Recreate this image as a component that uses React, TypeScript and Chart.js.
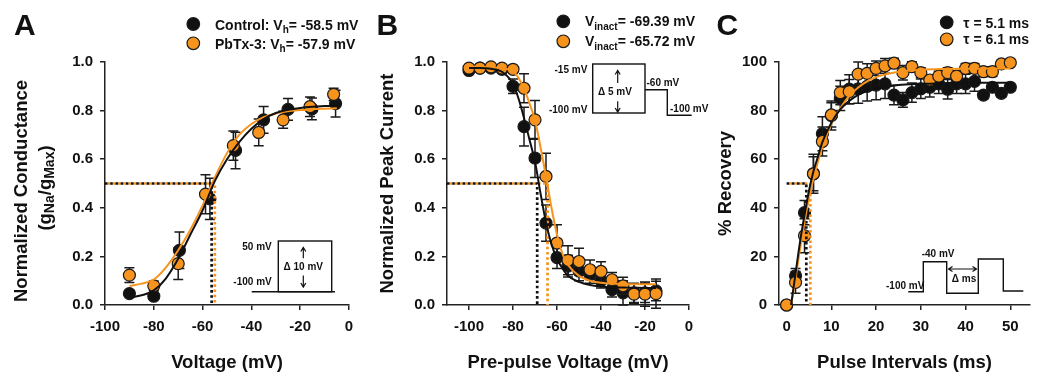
import { useEffect, useRef } from 'react';
import { Chart, registerables } from 'chart.js';

Chart.register(...registerables);

const W = 1047;
const H = 375;
const FONT = "'Liberation Sans', Arial, Helvetica, sans-serif";
const INK = '#111111';
const ORANGE = '#F7941D';
const AXIS = '#222222';
const BOTTOM_PAD = 1.2;

// ---------------- Panel A : activation ----------------
const aVoltageControl = [-90, -80, -69.5, -57, -46.5, -35, -25, -15.2, -5.5];
const aConductControl = [0.047, 0.036, 0.225, 0.437, 0.636, 0.762, 0.805, 0.807, 0.829];
const aErrorControl = [0.012, 0.012, 0.075, 0.085, 0.075, 0.055, 0.045, 0.045, 0.055];
const aVoltagePbtx = [-90, -80, -70, -58.8, -47.4, -37, -27, -16, -6.3];
const aConductPbtx = [0.123, 0.079, 0.17, 0.456, 0.656, 0.71, 0.762, 0.816, 0.867];
const aErrorPbtx = [0.03, 0.02, 0.065, 0.08, 0.06, 0.055, 0.035, 0.04, 0.025];
const aFitVoltage = [-90, -85, -80, -75, -70, -65, -60, -55, -50, -45, -40, -35, -30, -25, -20, -15, -10, -5];
const aFitControl = [0.03, 0.04, 0.06, 0.11, 0.19, 0.29, 0.39, 0.51, 0.6, 0.67, 0.725, 0.765, 0.79, 0.803, 0.811, 0.816, 0.819, 0.821];
const aFitPbtx = [0.078, 0.088, 0.105, 0.155, 0.225, 0.31, 0.41, 0.525, 0.625, 0.7, 0.745, 0.773, 0.788, 0.797, 0.802, 0.806, 0.808, 0.81];
const aHalfVoltage = [-56.3, -55.0]; // control, PbTx-3
const aXTicks = [-100, -80, -60, -40, -20, 0];
const aYTicks = [0, 0.2, 0.4, 0.6, 0.8, 1.0];

// ---------------- Panel B : steady-state inactivation ----------------
const bPrepulse = [-100, -95, -90, -85, -80, -75, -70, -65, -60, -55, -50, -45, -40, -35, -30, -25, -20, -15];
const bCurrentControl = [0.965, 0.975, 0.975, 0.97, 0.9, 0.734, 0.605, 0.337, 0.195, 0.16, 0.14, 0.125, 0.1, 0.063, 0.05, 0.05, 0.05, 0.058];
const bErrorControl = [0.012, 0.01, 0.01, 0.01, 0.03, 0.08, 0.08, 0.075, 0.045, 0.045, 0.04, 0.035, 0.03, 0.03, 0.05, 0.04, 0.04, 0.04];
const bCurrentPbtx = [0.975, 0.975, 0.98, 0.975, 0.97, 0.892, 0.762, 0.529, 0.255, 0.184, 0.179, 0.145, 0.138, 0.104, 0.079, 0.045, 0.045, 0.047];
const bErrorPbtx = [0.01, 0.01, 0.01, 0.01, 0.01, 0.06, 0.08, 0.095, 0.075, 0.06, 0.055, 0.04, 0.04, 0.03, 0.035, 0.04, 0.05, 0.06];
const bFitVoltage = [-100, -95, -90, -85, -80, -77.5, -75, -72.5, -70, -67.5, -65, -62.5, -60, -57.5, -55, -50, -45, -40, -35, -30, -25, -20, -15];
const bFitControl = [0.975, 0.975, 0.972, 0.96, 0.91, 0.85, 0.77, 0.68, 0.59, 0.46, 0.34, 0.25, 0.19, 0.15, 0.12, 0.095, 0.082, 0.076, 0.073, 0.072, 0.071, 0.07, 0.07];
const bFitPbtx = [0.98, 0.98, 0.978, 0.975, 0.962, 0.935, 0.89, 0.83, 0.76, 0.65, 0.53, 0.4, 0.29, 0.21, 0.165, 0.12, 0.1, 0.092, 0.088, 0.086, 0.085, 0.085, 0.085];
const bHalfVoltage = [-69.0, -64.3];
const bXTicks = [-100, -80, -60, -40, -20, 0];
const bYTicks = [0, 0.2, 0.4, 0.6, 0.8, 1.0];

// ---------------- Panel C : recovery from inactivation ----------------
const cInterval = [0, 2, 4, 6, 8, 10, 12, 14, 16, 18, 20, 22, 24, 26, 28, 30, 32, 34, 36, 38, 40, 42, 44, 46, 48, 50];
const cRecoveryControl = [0, 12, 38, 54, 70.5, 78, 85, 88.8, 89, 90, 90.5, 91, 86.4, 84.4, 87.4, 89, 89.6, 91, 88.8, 91, 91, 92, 86.4, 89.6, 87.1, 89.6];
const cErrorControl = [0, 3, 5, 8, 7, 6, 5, 6, 6, 6, 6, 6, 4, 3, 4, 4, 4, 4, 4, 4, 4, 4, 1.5, 1.5, 1.5, 1.5];
const cRecoveryPbtx = [0, 9.3, 28.5, 54, 67.3, 78.2, 87.4, 87.8, 95, 95.3, 97.4, 98.4, 99.5, 95.6, 98.1, 95.6, 92.6, 94.2, 95.6, 94.2, 97.4, 97.4, 96, 96, 99.2, 99.7];
const cErrorPbtx = [0, 4.5, 7, 7, 6, 5, 5, 5, 5, 4, 3, 3, 2, 3, 2, 2, 2, 2, 2, 2, 2, 2, 2, 2, 1, 1];
const cFitInterval = [1, 2, 3, 4, 5, 6, 7, 8, 10, 12, 14, 16, 18, 20, 25, 30, 35, 40, 45, 50];
const cFitControl = [0, 13, 26, 37, 47, 55, 61, 67, 75, 80.5, 84, 86.5, 88, 89, 90.5, 91, 91.3, 91.5, 91.5, 91.5];
const cFitPbtx = [0, 11, 23, 34, 44, 52, 59, 65, 74.5, 81, 86, 89.5, 92, 93.8, 96, 96.8, 97.1, 97.2, 97.3, 97.3];
const cHalfInterval = [4.4, 5.3];
const cXTicks = [0, 10, 20, 30, 40, 50];
const cYTicks = [0, 20, 40, 60, 80, 100];

// ---------------- helpers ----------------
const pts = (xs: number[], ys: number[]) => xs.map((x, i) => ({ x, y: ys[i] }));

function fitDataset(xs: number[], ys: number[], color: string) {
  return {
    type: 'line', data: pts(xs, ys), borderColor: color, borderWidth: 2, pointRadius: 0,
    fill: false, cubicInterpolationMode: 'monotone', clip: false, order: 0,
  };
}
function markerDataset(xs: number[], ys: number[], errs: number[], color: string, order: number) {
  return {
    type: 'scatter', data: pts(xs, ys), errors: errs, pointRadius: 6, pointHoverRadius: 6,
    pointBackgroundColor: color, pointBorderColor: '#1a1a1a', pointBorderWidth: 1.2,
    showLine: false, clip: false, order,
  };
}
function guideDataset(xStart: number, xHalf: number, level: number, color: string, offset: number) {
  return {
    type: 'line',
    data: [{ x: xStart, y: level }, { x: xHalf, y: level }, { x: xHalf, y: 0 }],
    borderColor: color, borderWidth: 2.7, borderDash: [2.6, 2.6], borderDashOffset: offset,
    borderCapStyle: 'butt', pointRadius: 0, fill: false, tension: 0, clip: false, order: 0,
  };
}

const errorBarPlugin = {
  id: 'errorBars',
  beforeDatasetDraw(chart: any, args: any) {
    const ds = chart.data.datasets[args.index];
    if (!ds.errors) return;
    const yScale = chart.scales.y;
    const ctx = chart.ctx;
    ctx.save();
    ctx.strokeStyle = '#1a1a1a';
    ctx.lineWidth = 1.5;
    args.meta.data.forEach((el: any, i: number) => {
      const e = ds.errors[i];
      if (!e) return;
      const v = ds.data[i].y;
      const yt = yScale.getPixelForValue(v + e);
      const yb = yScale.getPixelForValue(v - e);
      const x = el.x;
      ctx.beginPath();
      ctx.moveTo(x, yt); ctx.lineTo(x, yb);
      ctx.moveTo(x - 5, yt); ctx.lineTo(x + 5, yt);
      ctx.moveTo(x - 5, yb); ctx.lineTo(x + 5, yb);
      ctx.stroke();
    });
    ctx.restore();
  },
};

function txt(ctx: CanvasRenderingContext2D, s: string, x: number, y: number, size: number,
  align: CanvasTextAlign = 'left', baseline: CanvasTextBaseline = 'alphabetic') {
  ctx.font = `bold ${size}px ${FONT}`;
  ctx.textAlign = align;
  ctx.textBaseline = baseline;
  ctx.fillText(s, x, y);
}

function rich(ctx: CanvasRenderingContext2D, parts: [string, boolean][], x: number, y: number,
  size: number, subSize: number, drop: number, align: 'left' | 'center',
  baseline: CanvasTextBaseline = 'alphabetic') {
  let total = 0;
  const widths = parts.map(([s, sub]) => {
    ctx.font = `bold ${sub ? subSize : size}px ${FONT}`;
    const w = ctx.measureText(s).width;
    total += w;
    return w;
  });
  let cx = align === 'center' ? x - total / 2 : x;
  ctx.textAlign = 'left';
  ctx.textBaseline = baseline;
  parts.forEach(([s, sub], i) => {
    ctx.font = `bold ${sub ? subSize : size}px ${FONT}`;
    ctx.fillText(s, cx, y + (sub ? drop : 0));
    cx += widths[i];
  });
}

function dot(ctx: CanvasRenderingContext2D, x: number, y: number, color: string) {
  ctx.beginPath();
  ctx.arc(x, y, 6.3, 0, Math.PI * 2);
  ctx.fillStyle = color;
  ctx.fill();
  ctx.lineWidth = 1.2;
  ctx.strokeStyle = '#1a1a1a';
  ctx.stroke();
  ctx.fillStyle = INK;
}

function vArrow(ctx: CanvasRenderingContext2D, x: number, y1: number, y2: number) {
  const d = Math.sign(y2 - y1);
  ctx.beginPath();
  ctx.moveTo(x, y1); ctx.lineTo(x, y2);
  ctx.moveTo(x - 2.5, y2 - d * 4); ctx.lineTo(x, y2); ctx.lineTo(x + 2.5, y2 - d * 4);
  ctx.stroke();
}

function hDoubleArrow(ctx: CanvasRenderingContext2D, x1: number, x2: number, y: number) {
  ctx.beginPath();
  ctx.moveTo(x1, y); ctx.lineTo(x2, y);
  ctx.moveTo(x1 + 4, y - 2.5); ctx.lineTo(x1, y); ctx.lineTo(x1 + 4, y + 2.5);
  ctx.moveTo(x2 - 4, y - 2.5); ctx.lineTo(x2, y); ctx.lineTo(x2 - 4, y + 2.5);
  ctx.stroke();
}

function poly(ctx: CanvasRenderingContext2D, p: number[][]) {
  ctx.beginPath();
  ctx.moveTo(p[0][0], p[0][1]);
  for (let i = 1; i < p.length; i++) ctx.lineTo(p[i][0], p[i][1]);
  ctx.stroke();
}

function drawA(ctx: CanvasRenderingContext2D) {
  ctx.save();
  ctx.fillStyle = INK;
  txt(ctx, 'A', 14, 35, 30);
  dot(ctx, 193.3, 24, INK);
  dot(ctx, 193.3, 43.3, ORANGE);
  rich(ctx, [['Control: V', false], ['h', true], ['= -58.5 mV', false]], 215, 29.5, 14, 10, 3.5, 'left');
  rich(ctx, [['PbTx-3: V', false], ['h', true], ['= -57.9 mV', false]], 215, 48.5, 14, 10, 3.5, 'left');
  // y title (two lines, with subscripts)
  ctx.save();
  ctx.translate(21.5, 191);
  ctx.rotate(-Math.PI / 2);
  txt(ctx, 'Normalized Conductance', 0, 0, 18.5, 'center', 'middle');
  ctx.restore();
  ctx.save();
  ctx.translate(46, 188);
  ctx.rotate(-Math.PI / 2);
  rich(ctx, [['(g', false], ['Na', true], ['/g', false], ['Max', true], [')', false]], 0, 0, 18.5, 14, 4, 'center', 'middle');
  ctx.restore();
  // protocol inset
  ctx.strokeStyle = INK;
  ctx.lineWidth = 1.4;
  poly(ctx, [[251.7, 291.7], [335, 291.7]]);
  ctx.strokeRect(278.3, 241, 53.4, 50.7);
  txt(ctx, '50 mV', 271.7, 247.3, 10, 'right', 'middle');
  txt(ctx, '-100 mV', 271.7, 282.7, 10, 'right', 'middle');
  txt(ctx, '\u0394 10 mV', 303.3, 267.3, 10, 'center', 'middle');
  ctx.lineWidth = 1.2;
  vArrow(ctx, 303.3, 258.3, 247.5);
  vArrow(ctx, 303.3, 275.5, 287);
  ctx.restore();
}

function drawB(ctx: CanvasRenderingContext2D) {
  ctx.save();
  ctx.fillStyle = INK;
  txt(ctx, 'B', 376.5, 35, 30);
  dot(ctx, 563.3, 21.3, INK);
  dot(ctx, 563.3, 41.3, ORANGE);
  rich(ctx, [['V', false], ['inact', true], ['= -69.39 mV', false]], 585, 26.3, 14, 10, 3.5, 'left');
  rich(ctx, [['V', false], ['inact', true], ['= -65.72 mV', false]], 585, 46.3, 14, 10, 3.5, 'left');
  ctx.strokeStyle = INK;
  ctx.lineWidth = 1.4;
  ctx.strokeRect(592.7, 64, 52.3, 49);
  poly(ctx, [[645, 89.7], [667.3, 89.7], [667.3, 115.3], [691.7, 115.3]]);
  txt(ctx, '-15 mV', 587.3, 70.7, 10, 'right', 'middle');
  txt(ctx, '-100 mV', 587.3, 110, 10, 'right', 'middle');
  txt(ctx, '-60 mV', 646.5, 83, 10, 'left', 'middle');
  txt(ctx, '-100 mV', 670, 109.7, 10, 'left', 'middle');
  txt(ctx, '\u0394 5 mV', 615, 92.3, 10, 'center', 'middle');
  ctx.lineWidth = 1.2;
  vArrow(ctx, 617.7, 83, 70.5);
  vArrow(ctx, 617.7, 101.3, 112);
  ctx.restore();
}

function drawC(ctx: CanvasRenderingContext2D) {
  ctx.save();
  ctx.fillStyle = INK;
  txt(ctx, 'C', 716.5, 35, 30);
  dot(ctx, 946.7, 22.3, INK);
  dot(ctx, 946.7, 39.3, ORANGE);
  txt(ctx, '\u03C4 = 5.1 ms', 963.3, 27.5, 14);
  txt(ctx, '\u03C4 = 6.1 ms', 963.3, 44.3, 14);
  ctx.strokeStyle = INK;
  ctx.lineWidth = 1.4;
  poly(ctx, [[908.3, 291.7], [923.3, 291.7], [923.3, 261.7], [946.7, 261.7], [946.7, 293.3],
    [978.3, 293.3], [978.3, 259], [1003.3, 259], [1003.3, 291], [1023.3, 291]]);
  txt(ctx, '-40 mV', 921.7, 254, 10, 'left', 'middle');
  txt(ctx, '-100 mV', 886, 286.7, 10, 'left', 'middle');
  txt(ctx, '\u0394 ms', 964, 279.3, 10, 'center', 'middle');
  ctx.lineWidth = 1.2;
  hDoubleArrow(ctx, 948.5, 976.5, 269);
  ctx.restore();
}

type Spec = {
  datasets: any[];
  xMin: number; xMax: number; xTicks: number[];
  yMin: number; yMax: number; yTicks: number[]; yFmt: (v: number) => string;
  xTitle: string; yTitle: string | null;
  plot: { left: number; right: number; top: number; bottom: number };
  yAxisWidth: number;
  decorate: (ctx: CanvasRenderingContext2D) => void;
};

function makeConfig(spec: Spec): any {
  const tickFont = { family: FONT, size: 15, weight: 'bold' };
  const titleFont = { family: FONT, size: 18.5, weight: 'bold' };
  const grid = {
    display: true, drawOnChartArea: false, drawTicks: true, tickLength: 5, tickWidth: 1.5,
    tickColor: AXIS, color: AXIS, lineWidth: 1.5,
  };
  const border = { display: true, color: AXIS, width: 1.5 };
  return {
    type: 'scatter',
    data: { datasets: spec.datasets },
    options: {
      responsive: false,
      animation: false,
      events: [],
      layout: {
        padding: {
          left: spec.plot.left - spec.yAxisWidth,
          right: W - spec.plot.right,
          top: spec.plot.top,
          bottom: BOTTOM_PAD,
        },
      },
      plugins: { legend: { display: false }, tooltip: { enabled: false }, title: { display: false } },
      scales: {
        x: {
          type: 'linear', min: spec.xMin, max: spec.xMax, grid, border,
          afterBuildTicks: (s: any) => { s.ticks = spec.xTicks.map((v) => ({ value: v })); },
          afterFit: (s: any) => { s.height = H - BOTTOM_PAD - spec.plot.bottom; },
          ticks: {
            autoSkip: false, maxRotation: 0, minRotation: 0, padding: 8, color: INK, font: tickFont,
            callback: (v: any) => String(v),
          },
          title: { display: true, text: spec.xTitle, color: INK, font: titleFont, padding: 0 },
        },
        y: {
          type: 'linear', min: spec.yMin, max: spec.yMax, grid, border,
          afterBuildTicks: (s: any) => { s.ticks = spec.yTicks.map((v) => ({ value: v })); },
          afterFit: (s: any) => { s.width = spec.yAxisWidth; },
          ticks: { autoSkip: false, padding: 7, color: INK, font: tickFont, callback: (v: any) => spec.yFmt(Number(v)) },
          title: { display: !!spec.yTitle, text: spec.yTitle ?? '', color: INK, font: titleFont, padding: 0 },
        },
      },
    },
    plugins: [errorBarPlugin, { id: 'decor', afterDraw: (chart: any) => spec.decorate(chart.ctx) }],
  };
}

function specA(): Spec {
  return {
    datasets: [
      fitDataset(aFitVoltage, aFitControl, INK),
      fitDataset(aFitVoltage, aFitPbtx, ORANGE),
      guideDataset(-100, aHalfVoltage[0], 0.5, INK, 0),
      guideDataset(-100, aHalfVoltage[1], 0.5, ORANGE, 2.6),
      markerDataset(aVoltagePbtx, aConductPbtx, aErrorPbtx, ORANGE, 1),
      markerDataset(aVoltageControl, aConductControl, aErrorControl, INK, 2),
    ],
    xMin: -100, xMax: 0, xTicks: aXTicks,
    yMin: 0, yMax: 1, yTicks: aYTicks, yFmt: (v) => v.toFixed(1),
    xTitle: 'Voltage (mV)', yTitle: null,
    plot: { left: 105, right: 349, top: 62, bottom: 305 },
    yAxisWidth: 50,
    decorate: drawA,
  };
}

function specB(): Spec {
  return {
    datasets: [
      fitDataset(bFitVoltage, bFitControl, INK),
      fitDataset(bFitVoltage, bFitPbtx, ORANGE),
      guideDataset(-110, bHalfVoltage[0], 0.5, INK, 0),
      guideDataset(-110, bHalfVoltage[1], 0.5, ORANGE, 2.6),
      markerDataset(bPrepulse, bCurrentPbtx, bErrorPbtx, ORANGE, 1),
      markerDataset(bPrepulse, bCurrentControl, bErrorControl, INK, 2),
    ],
    xMin: -110, xMax: 0, xTicks: bXTicks,
    yMin: 0, yMax: 1, yTicks: bYTicks, yFmt: (v) => v.toFixed(1),
    xTitle: 'Pre-pulse Voltage (mV)', yTitle: 'Normalized Peak Current',
    plot: { left: 447, right: 689, top: 62, bottom: 305 },
    yAxisWidth: 70.1,
    decorate: drawB,
  };
}

function specC(): Spec {
  return {
    datasets: [
      fitDataset(cFitInterval, cFitControl, INK),
      fitDataset(cFitInterval, cFitPbtx, ORANGE),
      guideDataset(0, cHalfInterval[0], 50, INK, 0),
      guideDataset(0, cHalfInterval[1], 50, ORANGE, 2.6),
      markerDataset(cInterval, cRecoveryPbtx, cErrorPbtx, ORANGE, 1),
      markerDataset(cInterval, cRecoveryControl, cErrorControl, INK, 2),
    ],
    xMin: -1.7, xMax: 54.4, xTicks: cXTicks,
    yMin: 0, yMax: 100, yTicks: cYTicks, yFmt: (v) => String(v),
    xTitle: 'Pulse Intervals (ms)', yTitle: '% Recovery',
    plot: { left: 779, right: 1030, top: 62, bottom: 305 },
    yAxisWidth: 64.1,
    decorate: drawC,
  };
}

export default function App() {
  const refA = useRef<HTMLCanvasElement>(null);
  const refB = useRef<HTMLCanvasElement>(null);
  const refC = useRef<HTMLCanvasElement>(null);

  useEffect(() => {
    const charts = [
      new Chart(refA.current as HTMLCanvasElement, makeConfig(specA())),
      new Chart(refB.current as HTMLCanvasElement, makeConfig(specB())),
      new Chart(refC.current as HTMLCanvasElement, makeConfig(specC())),
    ];
    return () => charts.forEach((c) => c.destroy());
  }, []);

  const cs: any = { position: 'absolute', left: 0, top: 0, width: W, height: H };
  return (
    <div style={{ position: 'absolute', left: 0, top: 0, width: W, height: H, background: '#ffffff' }}>
      <canvas ref={refA} width={W} height={H} style={cs} />
      <canvas ref={refB} width={W} height={H} style={cs} />
      <canvas ref={refC} width={W} height={H} style={cs} />
    </div>
  );
}
